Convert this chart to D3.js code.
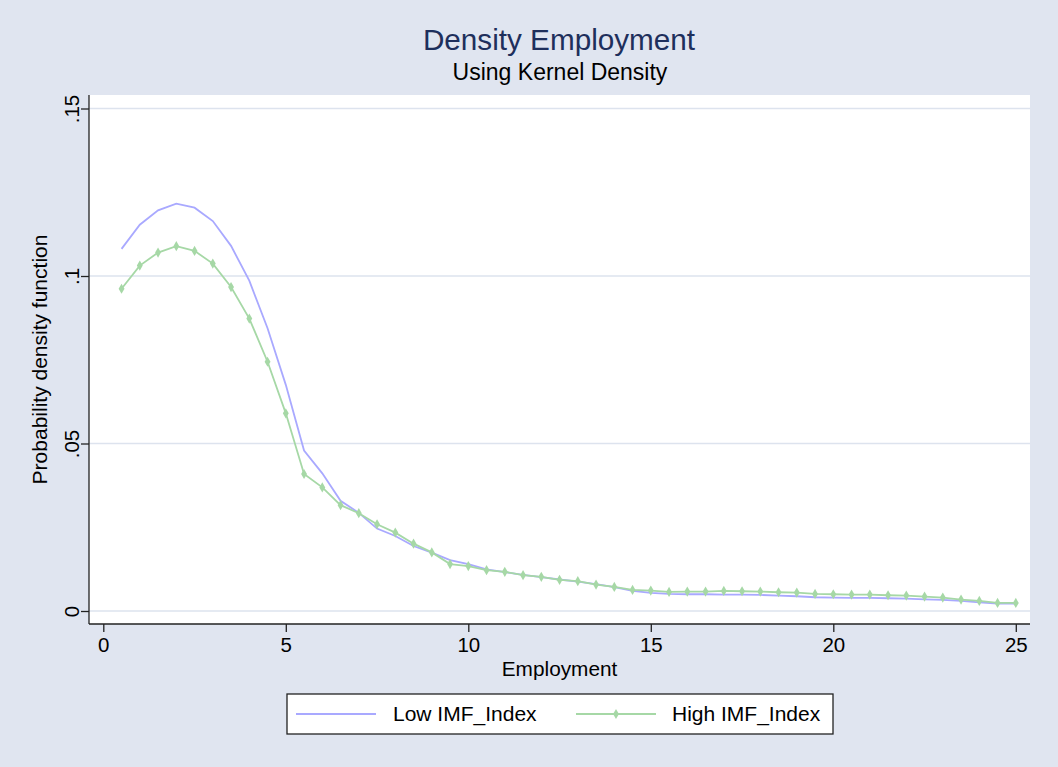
<!DOCTYPE html>
<meta charset="utf-8">
<script src="https://d3js.org/d3.v7.min.js"></script>
<style>
  body { margin: 0; background: #e0e5f0; }
  text { font-family: "Liberation Sans", Arial, sans-serif; }
</style>
<div id="chart"></div>
<script>
  // evaluation points (Employment)
  const employment = [0.5, 1, 1.5, 2, 2.5, 3, 3.5, 4, 4.5, 5, 5.5, 6, 6.5, 7, 7.5, 8, 8.5, 9, 9.5, 10,
    10.5, 11, 11.5, 12, 12.5, 13, 13.5, 14, 14.5, 15, 15.5, 16, 16.5, 17, 17.5, 18, 18.5, 19, 19.5, 20,
    20.5, 21, 21.5, 22, 22.5, 23, 23.5, 24, 24.5, 25];

  // density, Low IMF_Index
  const lowDensity = [0.1081, 0.1153, 0.1196, 0.1216, 0.1204, 0.1164, 0.1090, 0.0986, 0.0844, 0.0675,
    0.0479, 0.0411, 0.0329, 0.0293, 0.0246, 0.0224, 0.0194, 0.0174, 0.0152, 0.0140,
    0.0124, 0.0116, 0.0108, 0.0101, 0.0094, 0.0088, 0.0080, 0.0071, 0.0060, 0.0054,
    0.0051, 0.0050, 0.0050, 0.0049, 0.0049, 0.0048, 0.0046, 0.0044, 0.0041, 0.0040,
    0.0039, 0.0039, 0.0038, 0.0037, 0.0035, 0.0033, 0.0030, 0.0026, 0.0022, 0.0022];

  // density, High IMF_Index
  const highDensity = [0.0962, 0.1031, 0.1070, 0.1089, 0.1075, 0.1037, 0.0967, 0.0873, 0.0744, 0.0590,
    0.0409, 0.0369, 0.0316, 0.0292, 0.0259, 0.0234, 0.0201, 0.0175, 0.0140, 0.0134,
    0.0122, 0.0117, 0.0107, 0.0102, 0.0093, 0.0089, 0.0079, 0.0072, 0.0063, 0.0061,
    0.0057, 0.0058, 0.0058, 0.0060, 0.0059, 0.0058, 0.0056, 0.0055, 0.0051, 0.0050,
    0.0049, 0.0049, 0.0047, 0.0046, 0.0043, 0.0040, 0.0034, 0.0030, 0.0024, 0.0024];

  const xTicks = [0, 5, 10, 15, 20, 25];
  const yTicks = [0, 0.05, 0.1, 0.15];
  const yTickLabels = ["0", ".05", ".1", ".15"];

  const W = 1058, H = 767;
  const plot = {left: 89, right: 1030, top: 95, bottom: 624};
  const blue = "#a9a9ff", green = "#a6d8a6";

  const svg = d3.select("#chart").append("svg")
    .attr("width", W)
    .attr("height", H);

  svg.append("rect").attr("width", W).attr("height", H).attr("fill", "#e0e5f0");

  // plot region
  svg.append("rect")
    .attr("x", plot.left).attr("y", plot.top)
    .attr("width", plot.right - plot.left).attr("height", plot.bottom - plot.top)
    .attr("fill", "white");

  const x = d3.scaleLinear().domain([0, 25]).range([103.3, 1015.8]);
  const y = d3.scaleLinear().domain([0, 0.15]).range([611, 108.5]);

  // horizontal grid lines
  svg.append("g").selectAll("line")
    .data(yTicks)
    .join("line")
      .attr("x1", plot.left).attr("x2", plot.right)
      .attr("y1", d => y(d)).attr("y2", d => y(d))
      .attr("stroke", "#dde3ee")
      .attr("stroke-width", 1.6);

  // x axis
  const xAxis = svg.append("g")
    .attr("transform", `translate(0,${plot.bottom})`)
    .call(d3.axisBottom(x).tickValues(xTicks).tickSize(8).tickPadding(5).tickFormat(d3.format("d")));
  xAxis.select(".domain").attr("d", `M${plot.left},0H${plot.right}`).attr("stroke", "#222").attr("stroke-width", 1.3);
  xAxis.selectAll(".tick line").attr("stroke", "#222").attr("stroke-width", 1.3);
  xAxis.selectAll(".tick text").attr("font-size", 20.5).attr("fill", "#000")
    .style("font-family", "'Liberation Sans', Arial, sans-serif");

  // y axis
  const yAxis = svg.append("g")
    .attr("transform", `translate(${plot.left},0)`)
    .call(d3.axisLeft(y).tickValues(yTicks).tickSize(8).tickFormat((d, i) => yTickLabels[i]));
  yAxis.select(".domain").attr("d", `M0,${plot.top}V${plot.bottom}`).attr("stroke", "#222").attr("stroke-width", 1.3);
  yAxis.selectAll(".tick line").attr("stroke", "#222").attr("stroke-width", 1.3);
  yAxis.selectAll(".tick text")
    .attr("x", null).attr("dy", null)
    .attr("text-anchor", "middle")
    .attr("transform", "translate(-10,0) rotate(-90)")
    .attr("font-size", 20.5).attr("fill", "#000")
    .style("font-family", "'Liberation Sans', Arial, sans-serif");

  // density lines
  const densityLine = d3.line().x((d, i) => x(employment[i])).y(d => y(d));
  svg.append("path")
    .datum(lowDensity)
    .attr("d", densityLine)
    .attr("fill", "none")
    .attr("stroke", blue)
    .attr("stroke-width", 1.8);

  svg.append("path")
    .datum(highDensity)
    .attr("d", densityLine)
    .attr("fill", "none")
    .attr("stroke", green)
    .attr("stroke-width", 1.8);

  const diamond = d3.symbol().type(d3.symbolDiamond).size(30);
  svg.append("g").selectAll("path")
    .data(highDensity)
    .join("path")
      .attr("d", diamond)
      .attr("transform", (d, i) => `translate(${x(employment[i])},${y(d)})`)
      .attr("fill", green);

  // titles
  svg.append("text")
    .attr("x", 559).attr("y", 50)
    .attr("text-anchor", "middle")
    .attr("font-size", 29.7)
    .attr("fill", "#1e2f5c")
    .text("Density Employment");

  svg.append("text")
    .attr("x", 560).attr("y", 80)
    .attr("text-anchor", "middle")
    .attr("font-size", 23)
    .attr("fill", "#000")
    .text("Using Kernel Density");

  svg.append("text")
    .attr("x", (x(0) + x(25)) / 2).attr("y", 676)
    .attr("text-anchor", "middle")
    .attr("font-size", 20.8)
    .text("Employment");

  svg.append("text")
    .attr("transform", `translate(47,${(plot.top + plot.bottom) / 2}) rotate(-90)`)
    .attr("text-anchor", "middle")
    .attr("font-size", 21)
    .text("Probability density function");

  // legend
  const legend = svg.append("g");
  legend.append("rect")
    .attr("x", 287).attr("y", 694)
    .attr("width", 546).attr("height", 40)
    .attr("fill", "white")
    .attr("stroke", "#222")
    .attr("stroke-width", 1.3);

  legend.append("line")
    .attr("x1", 296).attr("x2", 376).attr("y1", 714).attr("y2", 714)
    .attr("stroke", blue).attr("stroke-width", 1.8);
  legend.append("text")
    .attr("x", 393).attr("y", 721)
    .attr("font-size", 21)
    .text("Low IMF_Index");

  legend.append("line")
    .attr("x1", 576).attr("x2", 656).attr("y1", 714).attr("y2", 714)
    .attr("stroke", green).attr("stroke-width", 1.8);
  legend.append("path")
    .attr("d", diamond)
    .attr("transform", "translate(616,714)")
    .attr("fill", green);
  legend.append("text")
    .attr("x", 672).attr("y", 721)
    .attr("font-size", 21)
    .text("High IMF_Index");
</script>
